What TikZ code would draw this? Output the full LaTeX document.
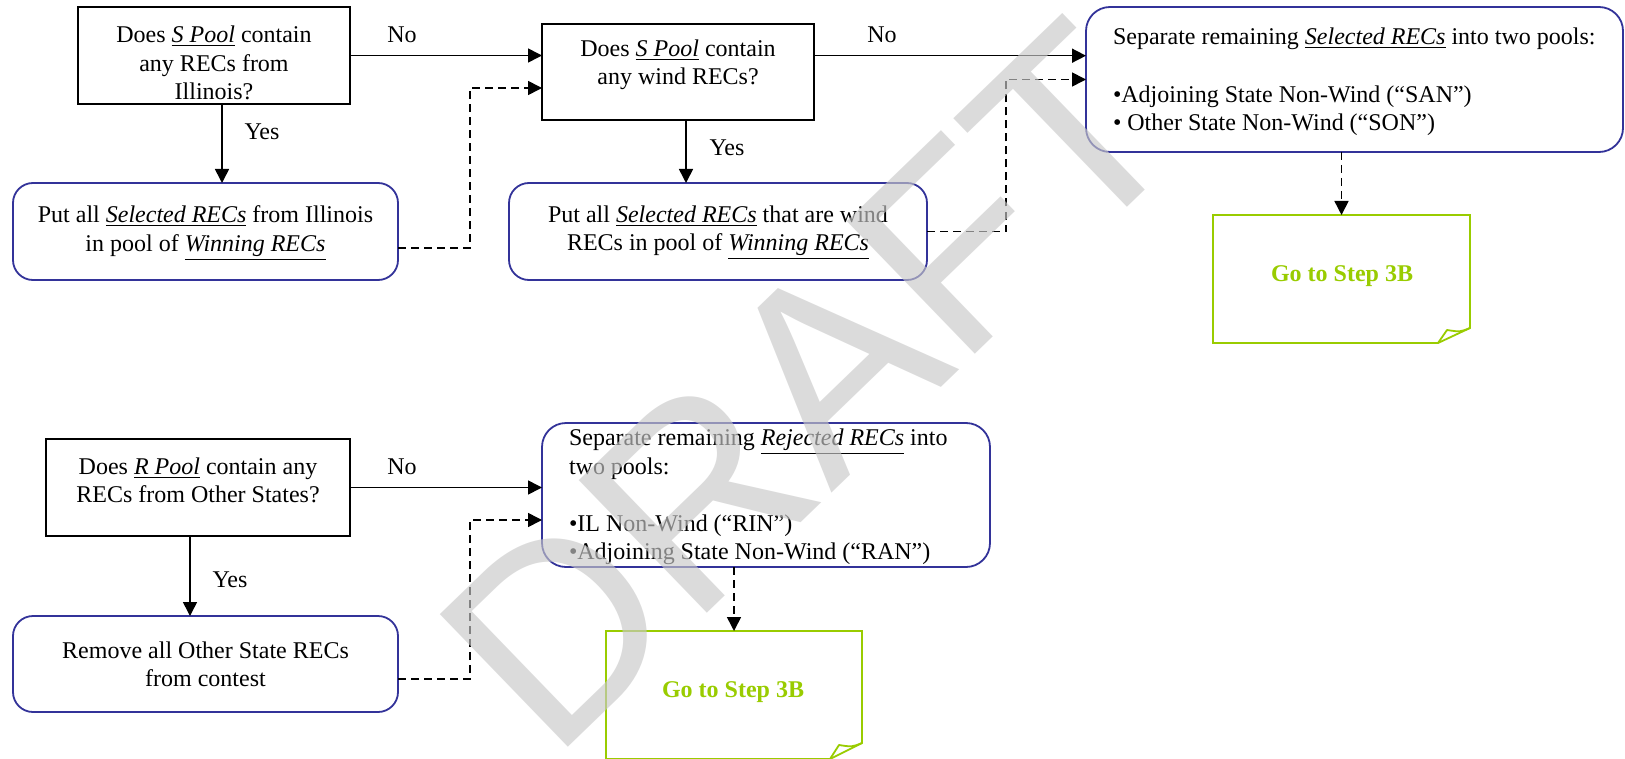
\documentclass[tikz,border=0pt]{standalone}
\usepackage{fontspec}
\setmainfont{Liberation Serif}
\newfontfamily\wmfont{Liberation Sans}
\usetikzlibrary{arrows.meta,calc}
\definecolor{boxblue}{RGB}{51,51,153}
\definecolor{notegreen}{RGB}{153,204,0}
\definecolor{wmgray}{RGB}{200,200,200}
\begin{document}
\begin{tikzpicture}[x=0.5pt,y=-0.5pt,
  every node/.style={font=\fontsize{12pt}{14.2pt}\selectfont},
  decision/.style={draw=black,line width=0.8pt,fill=white,inner sep=0pt,outer sep=0pt,rectangle},
  process/.style={draw=boxblue,line width=0.9pt,fill=white,rounded corners=10pt,inner sep=0pt,outer sep=0pt,rectangle},
  notebox/.style={inner sep=0pt,outer sep=0pt,rectangle},
  notepath/.style={draw=notegreen,line width=0.9pt,fill=white},
  txt/.style={inner sep=0pt,outer sep=0pt,align=center},
  ltxt/.style={inner sep=0pt,outer sep=0pt,align=left},
  notetxt/.style={inner sep=0pt,outer sep=0pt,text=notegreen,font=\fontsize{12pt}{14.2pt}\selectfont\bfseries},
  flow/.style={line width=0.8pt,-{Triangle[length=7pt,width=7pt]}},
  dflow/.style={flow,dash pattern=on 4pt off 2.5pt},
  lbl/.style={inner sep=0pt,outer sep=0pt}
]
\useasboundingbox (0,0) rectangle (1625,759);

% boxes
\node[decision,minimum width=136pt,minimum height=48.5pt] (A) at (214,55.5) {};
\node[decision,minimum width=136pt,minimum height=48pt] (B) at (678,72) {};
\node[process,minimum width=192.5pt,minimum height=48.5pt] (C) at (205.5,231.5) {};
\node[process,minimum width=209pt,minimum height=48.5pt] (D) at (718,231.5) {};
\node[process,minimum width=268.5pt,minimum height=72.5pt,rounded corners=12pt] (E) at (1354.5,79.5) {};
\node[notebox,minimum width=128.5pt,minimum height=64pt] (F) at (1341.5,279) {};
\node[decision,minimum width=152pt,minimum height=48.5pt] (G) at (198,487.5) {};
\node[process,minimum width=192.5pt,minimum height=48pt] (H) at (205.5,664) {};
\node[process,minimum width=224pt,minimum height=72pt,rounded corners=12pt] (I) at (766,495) {};
\node[notebox,minimum width=128pt,minimum height=64pt] (J) at (734,695) {};

% folded notes
\draw[notepath] (F.north west) -- (F.north east) -- ($(F.south east)+(0,-15)$) -- ($(F.south east)+(-32,0)$) -- (F.south west) -- cycle;
\draw[draw=notegreen,line width=0.9pt,line join=round] ($(F.south east)+(0,-15)$) .. controls ($(F.south east)+(-10,-11)$) .. ($(F.south east)+(-23,-13)$) -- ($(F.south east)+(-32,0)$);
\draw[notepath] (J.north west) -- (J.north east) -- ($(J.south east)+(0,-16)$) -- ($(J.south east)+(-32,0)$) -- (J.south west) -- cycle;
\draw[draw=notegreen,line width=0.9pt,line join=round] ($(J.south east)+(0,-16)$) .. controls ($(J.south east)+(-10,-12)$) .. ($(J.south east)+(-23,-14)$) -- ($(J.south east)+(-32,0)$);

% texts
\node[txt] (At) at (214,63) {Does \underline{\textit{S Pool}} contain\\any RECs from\\Illinois?};
\node[txt] (Bt) at (678,65) {Does \underline{\textit{S Pool}} contain\\any wind RECs?};
\node[txt] (Ct) at (205.5,233) {Put all \underline{\textit{Selected RECs}} from Illinois\\in pool of \underline{\textit{Winning RECs}}};
\node[txt] (Dt) at (718,233) {Put all \underline{\textit{Selected RECs}} that are wind\\RECs in pool of \underline{\textit{Winning RECs}}};
\node[ltxt,anchor=west] (Et) at (1113,82) {Separate remaining \underline{\textit{Selected RECs}} into two pools:\\[14.6pt]•Adjoining State Non-Wind (“SAN”)\\• Other State Non-Wind (“SON”)};
\node[notetxt] (Ft) at (1342,276) {Go to Step 3B};
\node[txt] (Gt) at (198,480.5) {Does \underline{\textit{R Pool}} contain any\\RECs from Other States?};
\node[txt] (Ht) at (205.5,664.5) {Remove all Other State RECs\\from contest};
\node[ltxt,anchor=west] (It) at (569,497) {Separate remaining \underline{\textit{Rejected RECs}} into\\two pools:\\[14.5pt]•IL Non-Wind (“RIN”)\\•Adjoining State Non-Wind (“RAN”)};
\node[notetxt] (Jt) at (733,692) {Go to Step 3B};

% helper coordinates
\coordinate (xr1) at (470,0);
\coordinate (xr2) at (1006,0);
\coordinate (a1) at ($(A.south)+(8,0)$);
\coordinate (b1) at ($(B.west)+(0,16)$);
\coordinate (b2) at ($(B.east)+(0,-16.3)$);
\coordinate (b3) at ($(B.south)+(8,0)$);
\coordinate (c1) at ($(C.east)+(0,16.5)$);
\coordinate (g1) at ($(G.south)+(-8,0)$);
\coordinate (h1) at ($(H.east)+(0,15)$);
\coordinate (i1) at ($(I.west)+(0,25)$);

% connectors
\draw[flow] (A.east) -- (A.east -| B.west);
\draw[flow] (a1) -- (a1 |- C.north);
\draw[dflow] (c1) -- (c1 -| xr1) |- (b1);
\draw[flow] (b2) -- (b2 -| E.west);
\draw[flow] (b3) -- (b3 |- D.north);
\draw[dflow] (D.east) -- (D.east -| xr2) |- (E.west);
\draw[dflow] (F.north |- E.south) -- (F.north);
\draw[flow] (G.east) -- (G.east -| I.west);
\draw[flow] (g1) -- (g1 |- H.north);
\draw[dflow] (h1) -- (h1 -| xr1) |- (i1);
\draw[dflow] (J.north |- I.south) -- (J.north);

% labels
\node[lbl] (no1) at (402,35) {No};
\node[lbl] (no2) at (882,35) {No};
\node[lbl] (no3) at (402,467) {No};
\node[lbl] (yes1) at (262,132) {Yes};
\node[lbl] (yes2) at (727,148) {Yes};
\node[lbl] (yes3) at (230,580) {Yes};

% watermark
\node[font=\wmfont\fontsize{134pt}{134pt}\selectfont,text=wmgray,text opacity=0.65,rotate=44,inner sep=0pt] (wm) at (810,386) {DRAFT};
\end{tikzpicture}
\end{document}
